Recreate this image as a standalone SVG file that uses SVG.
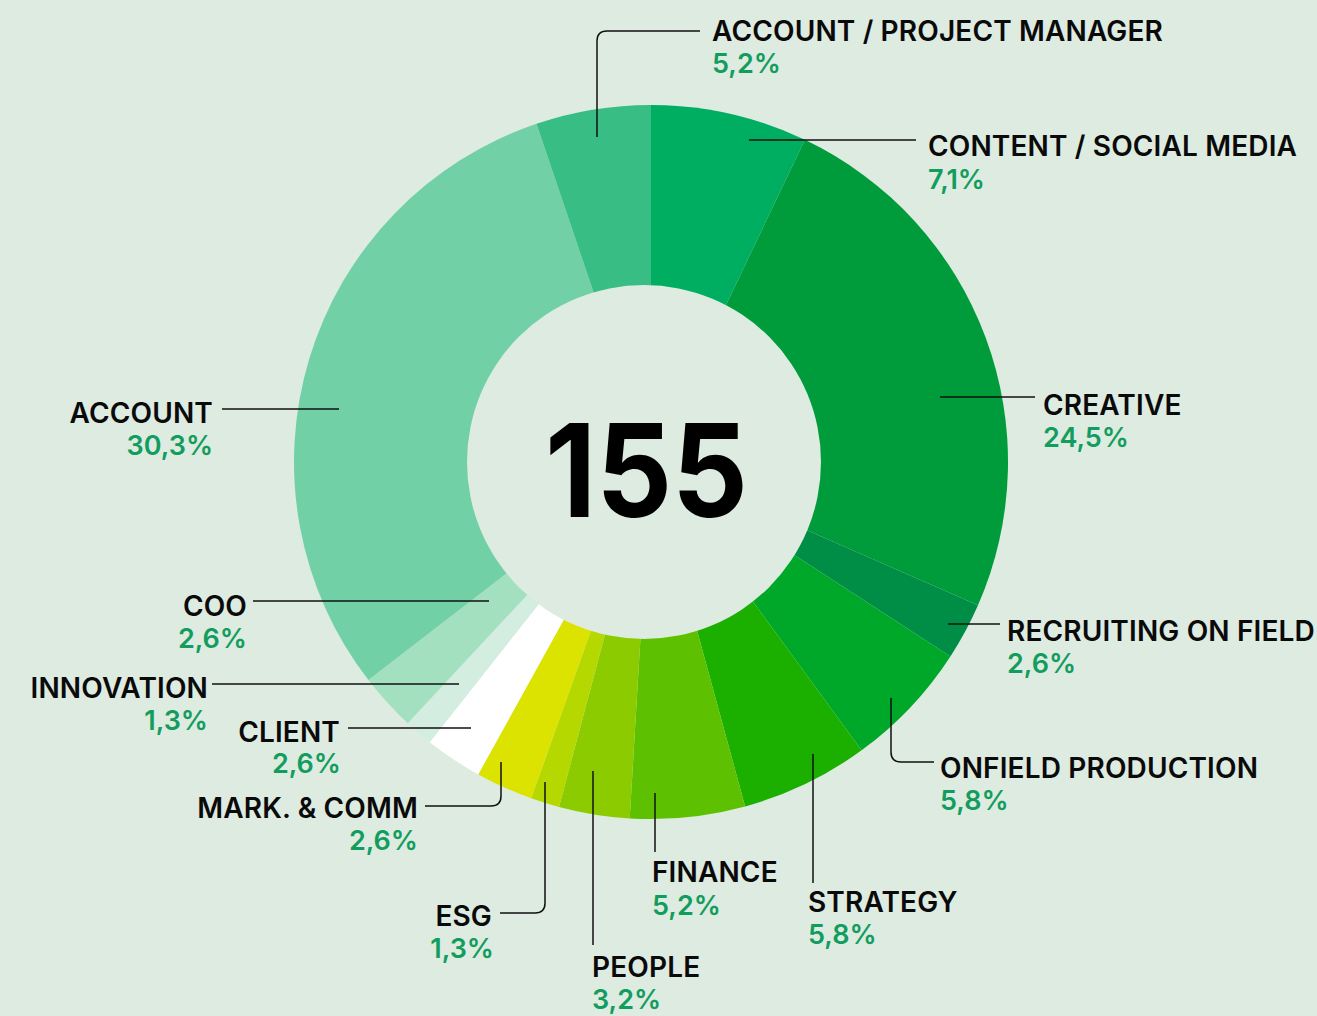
<svg xmlns="http://www.w3.org/2000/svg" width="1317" height="1016" viewBox="0 0 1317 1016">
<style>
.lbl{font-family:Inter,"Liberation Sans",sans-serif;font-weight:600;font-size:28px;letter-spacing:0.15px;fill:#0a0a0a}
.pct{font-family:Inter,"Liberation Sans",sans-serif;font-weight:600;font-size:27px;fill:#129d5e}
.end{text-anchor:end}
.lead{fill:none;stroke:#111;stroke-width:1.5}
</style>
<rect width="1317" height="1016" fill="#deebe1"/>
<g id="donut">
<path id="seg-content" d="M651 462 L651 105 A357 357 0 0 1 804.9 139.8 Z" fill="#00ae62"/>
<path id="seg-creative" d="M651 462 L804.9 139.8 A357 357 0 0 1 978 605.2 Z" fill="#009c3b"/>
<path id="seg-recruiting" d="M651 462 L978 605.2 A357 357 0 0 1 950.4 656.4 Z" fill="#008e47"/>
<path id="seg-onfield" d="M651 462 L950.4 656.4 A357 357 0 0 1 861.6 750.3 Z" fill="#00a82a"/>
<path id="seg-strategy" d="M651 462 L861.6 750.3 A357 357 0 0 1 745.1 806.4 Z" fill="#1bb000"/>
<path id="seg-finance" d="M651 462 L745.1 806.4 A357 357 0 0 1 629.7 818.4 Z" fill="#5dc000"/>
<path id="seg-people" d="M651 462 L629.7 818.4 A357 357 0 0 1 559 806.9 Z" fill="#8ccb00"/>
<path id="seg-esg" d="M651 462 L559 806.9 A357 357 0 0 1 531.2 798.3 Z" fill="#b5d800"/>
<path id="seg-mark" d="M651 462 L531.2 798.3 A357 357 0 0 1 478.2 774.4 Z" fill="#dce300"/>
<path id="seg-client" d="M651 462 L478.2 774.4 A357 357 0 0 1 429.7 742.2 Z" fill="#ffffff"/>
<path id="seg-innovation" d="M651 462 L429.7 742.2 A357 357 0 0 1 407.7 723.2 Z" fill="#d3ede0"/>
<path id="seg-coo" d="M651 462 L407.7 723.2 A357 357 0 0 1 368.4 680.1 Z" fill="#a2e0c0"/>
<path id="seg-account" d="M651 462 L368.4 680.1 A357 357 0 0 1 536.5 123.8 Z" fill="#72d0a6"/>
<path id="seg-apm" d="M651 462 L536.5 123.8 A357 357 0 0 1 651 105 Z" fill="#38bd84"/>
<circle cx="644" cy="462" r="177" fill="#ddebe1"/>
</g>
<g id="total">
<text x="646.5" y="517" text-anchor="middle" font-family="Inter,'Liberation Sans',sans-serif" font-weight="700" font-size="129" fill="#000" textLength="203" lengthAdjust="spacingAndGlyphs">155</text>
</g>
<g id="connectors">
<path class="lead" d="M700 31 H607 Q597 31 597 41 V137"/>
<path class="lead" d="M749 140 H916"/>
<path class="lead" d="M940 397 H1035"/>
<path class="lead" d="M948 624 H1000"/>
<path class="lead" d="M891 698 V752 Q891 762 901 762 H934"/>
<path class="lead" d="M813 754 V883"/>
<path class="lead" d="M655 793 V852"/>
<path class="lead" d="M593 771 V945"/>
<path class="lead" d="M545 782 V903 Q545 913 535 913 H500"/>
<path class="lead" d="M501 762 V796 Q501 806 491 806 H425"/>
<path class="lead" d="M348 728 H471"/>
<path class="lead" d="M212 684 H459"/>
<path class="lead" d="M253 601 H489"/>
<path class="lead" d="M222 409 H339"/>
</g>
<g id="label-apm"><text class="lbl" x="712" y="41">ACCOUNT / PROJECT MANAGER</text><text class="pct" x="712" y="73">5,2%</text></g>
<g id="label-content"><text class="lbl" x="928" y="156">CONTENT / SOCIAL MEDIA</text><text class="pct" x="928" y="189">7,1%</text></g>
<g id="label-creative"><text class="lbl" x="1043" y="415">CREATIVE</text><text class="pct" x="1043" y="447">24,5%</text></g>
<g id="label-recruiting"><text class="lbl" x="1007" y="641">RECRUITING ON FIELD</text><text class="pct" x="1007" y="673">2,6%</text></g>
<g id="label-onfield"><text class="lbl" x="940" y="778">ONFIELD PRODUCTION</text><text class="pct" x="940" y="810">5,8%</text></g>
<g id="label-strategy"><text class="lbl" x="808" y="912">STRATEGY</text><text class="pct" x="808" y="944">5,8%</text></g>
<g id="label-finance"><text class="lbl" x="652" y="882">FINANCE</text><text class="pct" x="652" y="915">5,2%</text></g>
<g id="label-people"><text class="lbl" x="592" y="977">PEOPLE</text><text class="pct" x="592" y="1009">3,2%</text></g>
<g id="label-esg"><text class="lbl end" x="492" y="926">ESG</text><text class="pct end" x="494" y="958">1,3%</text></g>
<g id="label-mark"><text class="lbl end" x="418" y="818">MARK. &amp; COMM</text><text class="pct end" x="418" y="850">2,6%</text></g>
<g id="label-client"><text class="lbl end" x="340" y="742">CLIENT</text><text class="pct end" x="341" y="773">2,6%</text></g>
<g id="label-innovation"><text class="lbl end" x="208" y="698">INNOVATION</text><text class="pct end" x="208" y="730">1,3%</text></g>
<g id="label-coo"><text class="lbl end" x="247" y="616">COO</text><text class="pct end" x="247" y="648">2,6%</text></g>
<g id="label-account"><text class="lbl end" x="213" y="423">ACCOUNT</text><text class="pct end" x="213" y="455">30,3%</text></g>
</svg>
